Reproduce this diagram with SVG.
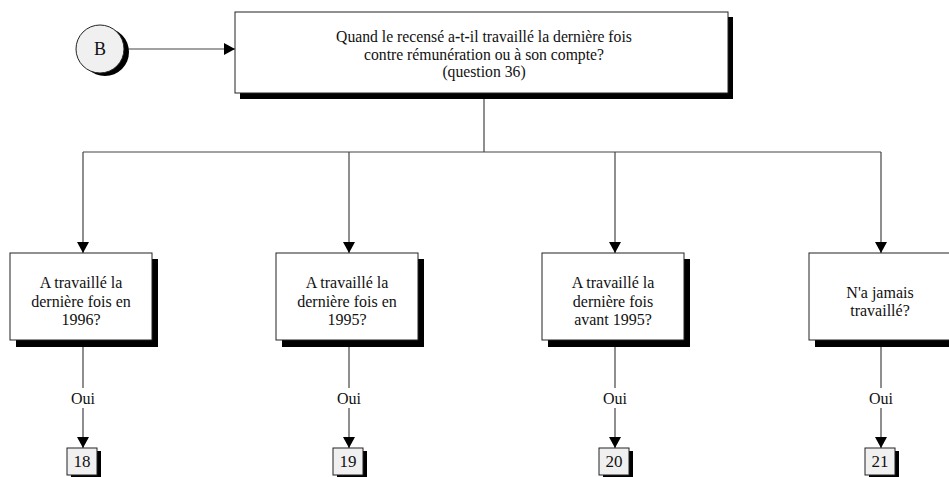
<svg xmlns="http://www.w3.org/2000/svg" width="949" height="477" viewBox="0 0 949 477">
<defs>
<marker id="arr" markerWidth="12" markerHeight="12" refX="11" refY="6" orient="auto" markerUnits="userSpaceOnUse">
<path d="M0,0 L11,6 L0,12 Z" fill="#000"/>
</marker>
<style>
.box{fill:#fff;stroke:#222;stroke-width:1}
.sh{fill:#000}
.ln{fill:none;stroke:#444;stroke-width:1.2}
text{font-family:'Liberation Serif',serif;fill:#111;text-anchor:middle}
.t{font-size:16px}
.tt{font-size:15.7px}
.sm{fill:#f0f0f0;stroke:#222;stroke-width:1}
</style>
</defs>
<rect width="949" height="477" fill="#fff"/>
<g id="connectors">
<line class="ln" x1="126" y1="49" x2="235" y2="49" marker-end="url(#arr)"/>
<line class="ln" x1="484" y1="99" x2="484" y2="152"/>
<line class="ln" x1="83" y1="152" x2="881" y2="152"/>
<line class="ln" x1="83" y1="152" x2="83" y2="253" marker-end="url(#arr)"/>
<line class="ln" x1="349" y1="152" x2="349" y2="253" marker-end="url(#arr)"/>
<line class="ln" x1="615" y1="152" x2="615" y2="253" marker-end="url(#arr)"/>
<line class="ln" x1="881" y1="152" x2="881" y2="253" marker-end="url(#arr)"/>
<line class="ln" x1="83" y1="347" x2="83" y2="388"/>
<line class="ln" x1="83" y1="408" x2="83" y2="448" marker-end="url(#arr)"/>
<line class="ln" x1="349" y1="347" x2="349" y2="388"/>
<line class="ln" x1="349" y1="408" x2="349" y2="448" marker-end="url(#arr)"/>
<line class="ln" x1="615" y1="347" x2="615" y2="388"/>
<line class="ln" x1="615" y1="408" x2="615" y2="448" marker-end="url(#arr)"/>
<line class="ln" x1="881" y1="347" x2="881" y2="388"/>
<line class="ln" x1="881" y1="408" x2="881" y2="448" marker-end="url(#arr)"/>
<text class="t" x="83" y="404">Oui</text>
<text class="t" x="349" y="404">Oui</text>
<text class="t" x="615" y="404">Oui</text>
<text class="t" x="881" y="404">Oui</text>
</g>
<g id="nodeB">
<circle class="sh" cx="105" cy="52" r="24"/>
<circle cx="100" cy="49" r="24" fill="#f0f0f0" stroke="#222" stroke-width="1"/>
<text x="100" y="55" font-size="18">B</text>
</g>
<g id="q36">
<rect class="sh" x="240" y="17" width="493" height="82"/>
<rect class="box" x="235" y="12" width="493" height="81"/>
<text class="tt" x="484" y="42">Quand le recensé a<tspan font-weight="bold">-</tspan>t<tspan font-weight="bold">-</tspan>il travaillé la dernière fois</text>
<text class="tt" x="484" y="60">contre rémunération ou à son compte?</text>
<text class="tt" x="484" y="77">(question 36)</text>
</g>
<g id="n1996">
<rect class="sh" x="16" y="259" width="142" height="88"/>
<rect class="box" x="10" y="253" width="142" height="87"/>
<text class="t" x="81" y="288">A travaillé la</text>
<text class="t" x="81" y="307">dernière fois en</text>
<text class="t" x="81" y="325">1996?</text>
</g>
<g id="n1995">
<rect class="sh" x="282" y="259" width="142" height="88"/>
<rect class="box" x="276" y="253" width="142" height="87"/>
<text class="t" x="347" y="288">A travaillé la</text>
<text class="t" x="347" y="307">dernière fois en</text>
<text class="t" x="347" y="325">1995?</text>
</g>
<g id="navant">
<rect class="sh" x="548" y="259" width="142" height="88"/>
<rect class="box" x="542" y="253" width="142" height="87"/>
<text class="t" x="613" y="288">A travaillé la</text>
<text class="t" x="613" y="307">dernière fois</text>
<text class="t" x="613" y="325">avant 1995?</text>
</g>
<g id="njamais">
<rect class="sh" x="815" y="259" width="142" height="88"/>
<rect class="box" x="809" y="253" width="142" height="87"/>
<text class="t" x="880" y="298">N'a jamais</text>
<text class="t" x="880" y="316">travaillé?</text>
</g>
<g id="b18">
<rect class="sh" x="71" y="451" width="30" height="27"/>
<rect class="sm" x="67" y="448" width="30" height="27"/>
<text x="82" y="467" font-size="17">18</text>
</g>
<g id="b19">
<rect class="sh" x="337" y="451" width="30" height="27"/>
<rect class="sm" x="333" y="448" width="30" height="27"/>
<text x="348" y="467" font-size="17">19</text>
</g>
<g id="b20">
<rect class="sh" x="603" y="451" width="30" height="27"/>
<rect class="sm" x="599" y="448" width="30" height="27"/>
<text x="614" y="467" font-size="17">20</text>
</g>
<g id="b21">
<rect class="sh" x="869" y="451" width="30" height="27"/>
<rect class="sm" x="865" y="448" width="30" height="27"/>
<text x="880" y="467" font-size="17">21</text>
</g>
</svg>
